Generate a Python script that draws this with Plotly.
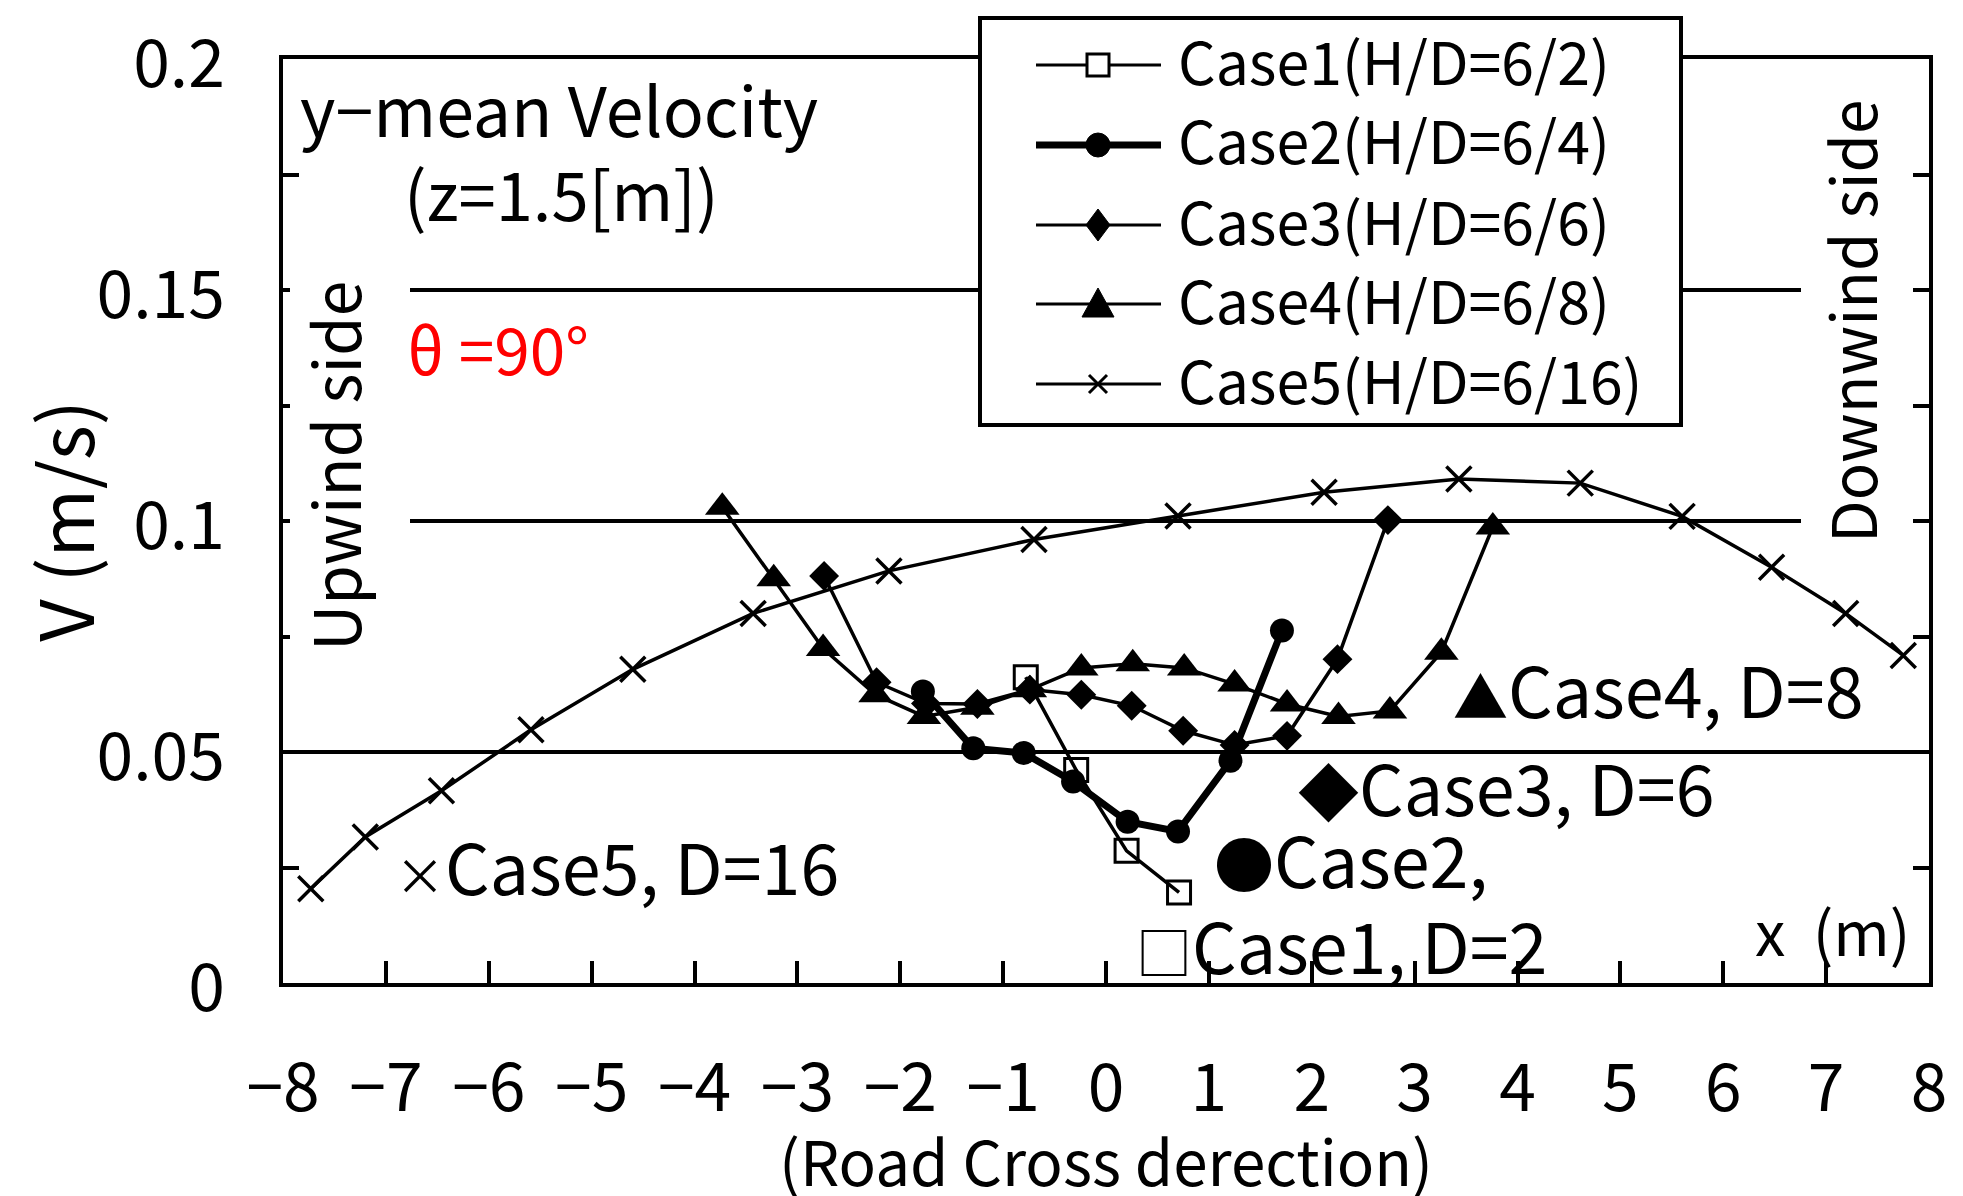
import plotly.graph_objects as go

FONT = "Noto Sans CJK JP"

# ---- data ----
case1_x = [-0.78, -0.29, 0.20, 0.71]
case1_y = [0.0662, 0.0461, 0.0286, 0.0196]

case2_x = [-1.78, -1.29, -0.80, -0.32, 0.21, 0.70, 1.21, 1.71]
case2_y = [0.0631, 0.0508, 0.0498, 0.0436, 0.0349, 0.0328, 0.0481, 0.0763]

case3_x = [-2.74, -2.23, -1.75, -1.25, -0.74, -0.24, 0.25, 0.75, 1.25, 1.76, 2.25, 2.74]
case3_y = [0.0881, 0.0651, 0.0605, 0.0604, 0.0635, 0.0624, 0.0600, 0.0546, 0.0515, 0.0535, 0.0701, 0.1002]

case4_x = [-3.73, -3.23, -2.75, -2.24, -1.77, -1.25, -0.74, -0.24, 0.26, 0.76, 1.25, 1.76, 2.26, 2.76, 3.26, 3.76]
case4_y = [0.1030, 0.0875, 0.0724, 0.0624, 0.0577, 0.0597, 0.0635, 0.0682, 0.0691, 0.0682, 0.0647, 0.0604, 0.0577, 0.0589, 0.0716, 0.0987]

case5_x = [-7.73, -7.20, -6.46, -5.59, -4.60, -3.43, -2.11, -0.70, 0.70, 2.12, 3.43, 4.61, 5.60, 6.47, 7.19, 7.75]
case5_y = [0.0204, 0.0316, 0.0416, 0.0548, 0.0679, 0.0800, 0.0892, 0.0960, 0.1011, 0.1062, 0.1091, 0.1082, 0.1010, 0.0900, 0.0800, 0.0709]

legend_names = ["Case1(H/D=6/2)", "Case2(H/D=6/4)", "Case3(H/D=6/6)", "Case4(H/D=6/8)", "Case5(H/D=6/16)"]

x_ticks = list(range(-8, 9))
y_ticks = [0, 0.05, 0.1, 0.15, 0.2]

fig = go.Figure()

fig.add_trace(go.Scatter(x=case5_x, y=case5_y, mode="lines+markers", name=legend_names[4],
                         line=dict(color="black", width=3.5),
                         marker=dict(symbol="x-thin", size=25, color="black", line=dict(width=3.5, color="black"))))
fig.add_trace(go.Scatter(x=case4_x, y=case4_y, mode="lines+markers", name=legend_names[3],
                         line=dict(color="black", width=3.5),
                         marker=dict(symbol="triangle-up", size=30, color="black")))
fig.add_trace(go.Scatter(x=case3_x, y=case3_y, mode="lines+markers", name=legend_names[2],
                         line=dict(color="black", width=3.5),
                         marker=dict(symbol="diamond", size=23, color="black")))
fig.add_trace(go.Scatter(x=case2_x, y=case2_y, mode="lines+markers", name=legend_names[1],
                         line=dict(color="black", width=7),
                         marker=dict(symbol="circle", size=24, color="black")))
fig.add_trace(go.Scatter(x=case1_x, y=case1_y, mode="lines+markers", name=legend_names[0],
                         line=dict(color="black", width=3.5),
                         marker=dict(symbol="square-open", size=23, color="black", line=dict(width=3, color="black"))))

W, H = 1963, 1196
# the page body adds an 8 px offset; margins compensate so the plot box sits at
# x 283..1929, y 59..983 in the window
L, R, T, B = 275, 42, 51, 221
PW, PH = W - L - R, H - T - B
OFF = 8


def px(xp):
    return (xp - OFF - L) / PW


def py(yp):
    return (H - B - (yp - OFF)) / PH


fig.update_layout(
    width=W, height=H,
    margin=dict(l=L, r=R, t=T, b=B, autoexpand=False),
    paper_bgcolor="white", plot_bgcolor="white",
    showlegend=False,
    font=dict(family=FONT, color="black", size=60),
)

fig.update_xaxes(
    range=[-8, 8], tickvals=x_ticks, ticks="inside", ticklen=22, tickwidth=3.5, tickcolor="black",
    showline=True, linewidth=4, linecolor="black", mirror=True, showgrid=False, zeroline=False,
    automargin=False, ticklabeloverflow="allow",
    tickfont=dict(family=FONT, size=66, color="black"), ticklabelstandoff=45,
    title=dict(text="(Road Cross derection)", font=dict(family=FONT, size=62, color="black"), standoff=0),
)
fig.update_yaxes(
    range=[0, 0.2], tickvals=y_ticks, ticks="inside", ticklen=16, tickwidth=3.5, tickcolor="black",
    minor=dict(dtick=0.025, ticks="inside", ticklen=16, tickwidth=3.5, tickcolor="black", showgrid=False),
    showline=True, linewidth=4, linecolor="black", mirror="ticks",
    showgrid=True, gridcolor="black", gridwidth=3.5, zeroline=False,
    automargin=False, ticklabeloverflow="allow",
    tickfont=dict(family=FONT, size=66, color="black"), ticklabelstandoff=41, ticklabelshift=5,
    title=dict(text="V (m/s)", font=dict(family=FONT, size=74, color="black"), standoff=32),
)

shapes = []
# white panels behind the vertical side texts (they interrupt the grid lines)
shapes.append(dict(type="rect", xref="paper", yref="paper", x0=px(290), x1=px(410), y0=py(668), y1=py(272),
                   fillcolor="white", line=dict(width=0), layer="above"))
shapes.append(dict(type="rect", xref="paper", yref="paper", x0=px(1801), x1=px(1913), y0=py(555), y1=py(95),
                   fillcolor="white", line=dict(width=0), layer="above"))

ann = []
ann.append(dict(text="Upwind side", xref="paper", yref="paper", x=px(333), y=py(466),
                textangle=-90, showarrow=False, font=dict(family=FONT, size=64),
                xanchor="center", yanchor="middle"))
ann.append(dict(text="Downwind side", xref="paper", yref="paper", x=px(1850), y=py(322),
                textangle=-90, showarrow=False, font=dict(family=FONT, size=62),
                xanchor="center", yanchor="middle"))
ann.append(dict(text="y\u2212mean Velocity", xref="paper", yref="paper", x=px(298), y=py(108),
                showarrow=False, font=dict(family=FONT, size=68), xanchor="left", yanchor="middle"))
ann.append(dict(text="(z=1.5[m])", xref="paper", yref="paper", x=px(402), y=py(192),
                showarrow=False, font=dict(family=FONT, size=67), xanchor="left", yanchor="middle"))
ann.append(dict(text="\u03b8 =90\u00b0", xref="paper", yref="paper", x=px(405), y=py(347),
                showarrow=False, font=dict(family=FONT, size=64, color="#ff0000"), xanchor="left", yanchor="middle"))
ann.append(dict(text="x\u00a0\u00a0(m)", xref="paper", yref="paper", x=px(1753), y=py(929),
                showarrow=False, font=dict(family=FONT, size=61), xanchor="left", yanchor="middle"))


def glyph(ch, size):
    return '<span style="font-size:%dpx">%s</span>' % (size, ch)


# in-plot case labels (data coordinates)
ann.append(dict(text=glyph("\u25b2", 55) + "Case4, D=8", x=3.35, y=0.0640, showarrow=False,
                font=dict(family=FONT, size=70), xanchor="left", yanchor="middle"))
ann.append(dict(text=glyph("\u25c6", 61) + "Case3, D=6", x=1.85, y=0.0428, showarrow=False,
                font=dict(family=FONT, size=70), xanchor="left", yanchor="middle"))
ann.append(dict(text=glyph("\u25cf", 60) + "Case2,", x=1.03, y=0.0271, showarrow=False,
                font=dict(family=FONT, size=70), xanchor="left", yanchor="middle"))
ann.append(dict(text=glyph("\u25a1", 56) + "Case1, D=2", x=0.27, y=0.0085, showarrow=False,
                font=dict(family=FONT, size=70), xanchor="left", yanchor="middle"))
ann.append(dict(text=glyph("\u00d7", 50) + "Case5, D=16", x=-6.93, y=0.0256, showarrow=False,
                font=dict(family=FONT, size=70), xanchor="left", yanchor="middle"))

# ---- legend (drawn as a framed key) ----
shapes.append(dict(type="rect", xref="paper", yref="paper", x0=px(980), x1=px(1681), y0=py(425), y1=py(18),
                   fillcolor="white", line=dict(color="black", width=4), layer="above"))
rows = [65, 145, 225, 304, 384]
line_w = [3, 7, 3, 3, 3]
mx = px(1098)
for i, name in enumerate(legend_names):
    yy = py(rows[i])
    shapes.append(dict(type="line", xref="paper", yref="paper", x0=px(1036), x1=px(1161), y0=yy, y1=yy,
                       line=dict(color="black", width=line_w[i]), layer="above"))
    ann.append(dict(text=name, xref="paper", yref="paper", x=px(1176), y=py(rows[i] - 6), showarrow=False,
                    font=dict(family=FONT, size=59), xanchor="left", yanchor="middle"))

common = dict(xref="paper", yref="paper", xsizemode="pixel", ysizemode="pixel", layer="above", xanchor=mx)
shapes.append(dict(type="rect", yanchor=py(rows[0]), x0=-11, x1=11, y0=-11, y1=11,
                   fillcolor="white", line=dict(color="black", width=3), **common))
shapes.append(dict(type="circle", yanchor=py(rows[1]), x0=-12, x1=12, y0=-12, y1=12,
                   fillcolor="black", line=dict(color="black", width=1), **common))
shapes.append(dict(type="path", yanchor=py(rows[2]), path="M0,-16 L12,0 L0,16 L-12,0 Z",
                   fillcolor="black", line=dict(color="black", width=1), **common))
shapes.append(dict(type="path", yanchor=py(rows[3]), path="M-16,-13 L16,-13 L0,16 Z",
                   fillcolor="black", line=dict(color="black", width=1), **common))
shapes.append(dict(type="path", yanchor=py(rows[4]), path="M-9,-9 L9,9 M-9,9 L9,-9",
                   line=dict(color="black", width=3), **common))

fig.update_layout(annotations=ann, shapes=shapes)

fig.write_html("out.html")
